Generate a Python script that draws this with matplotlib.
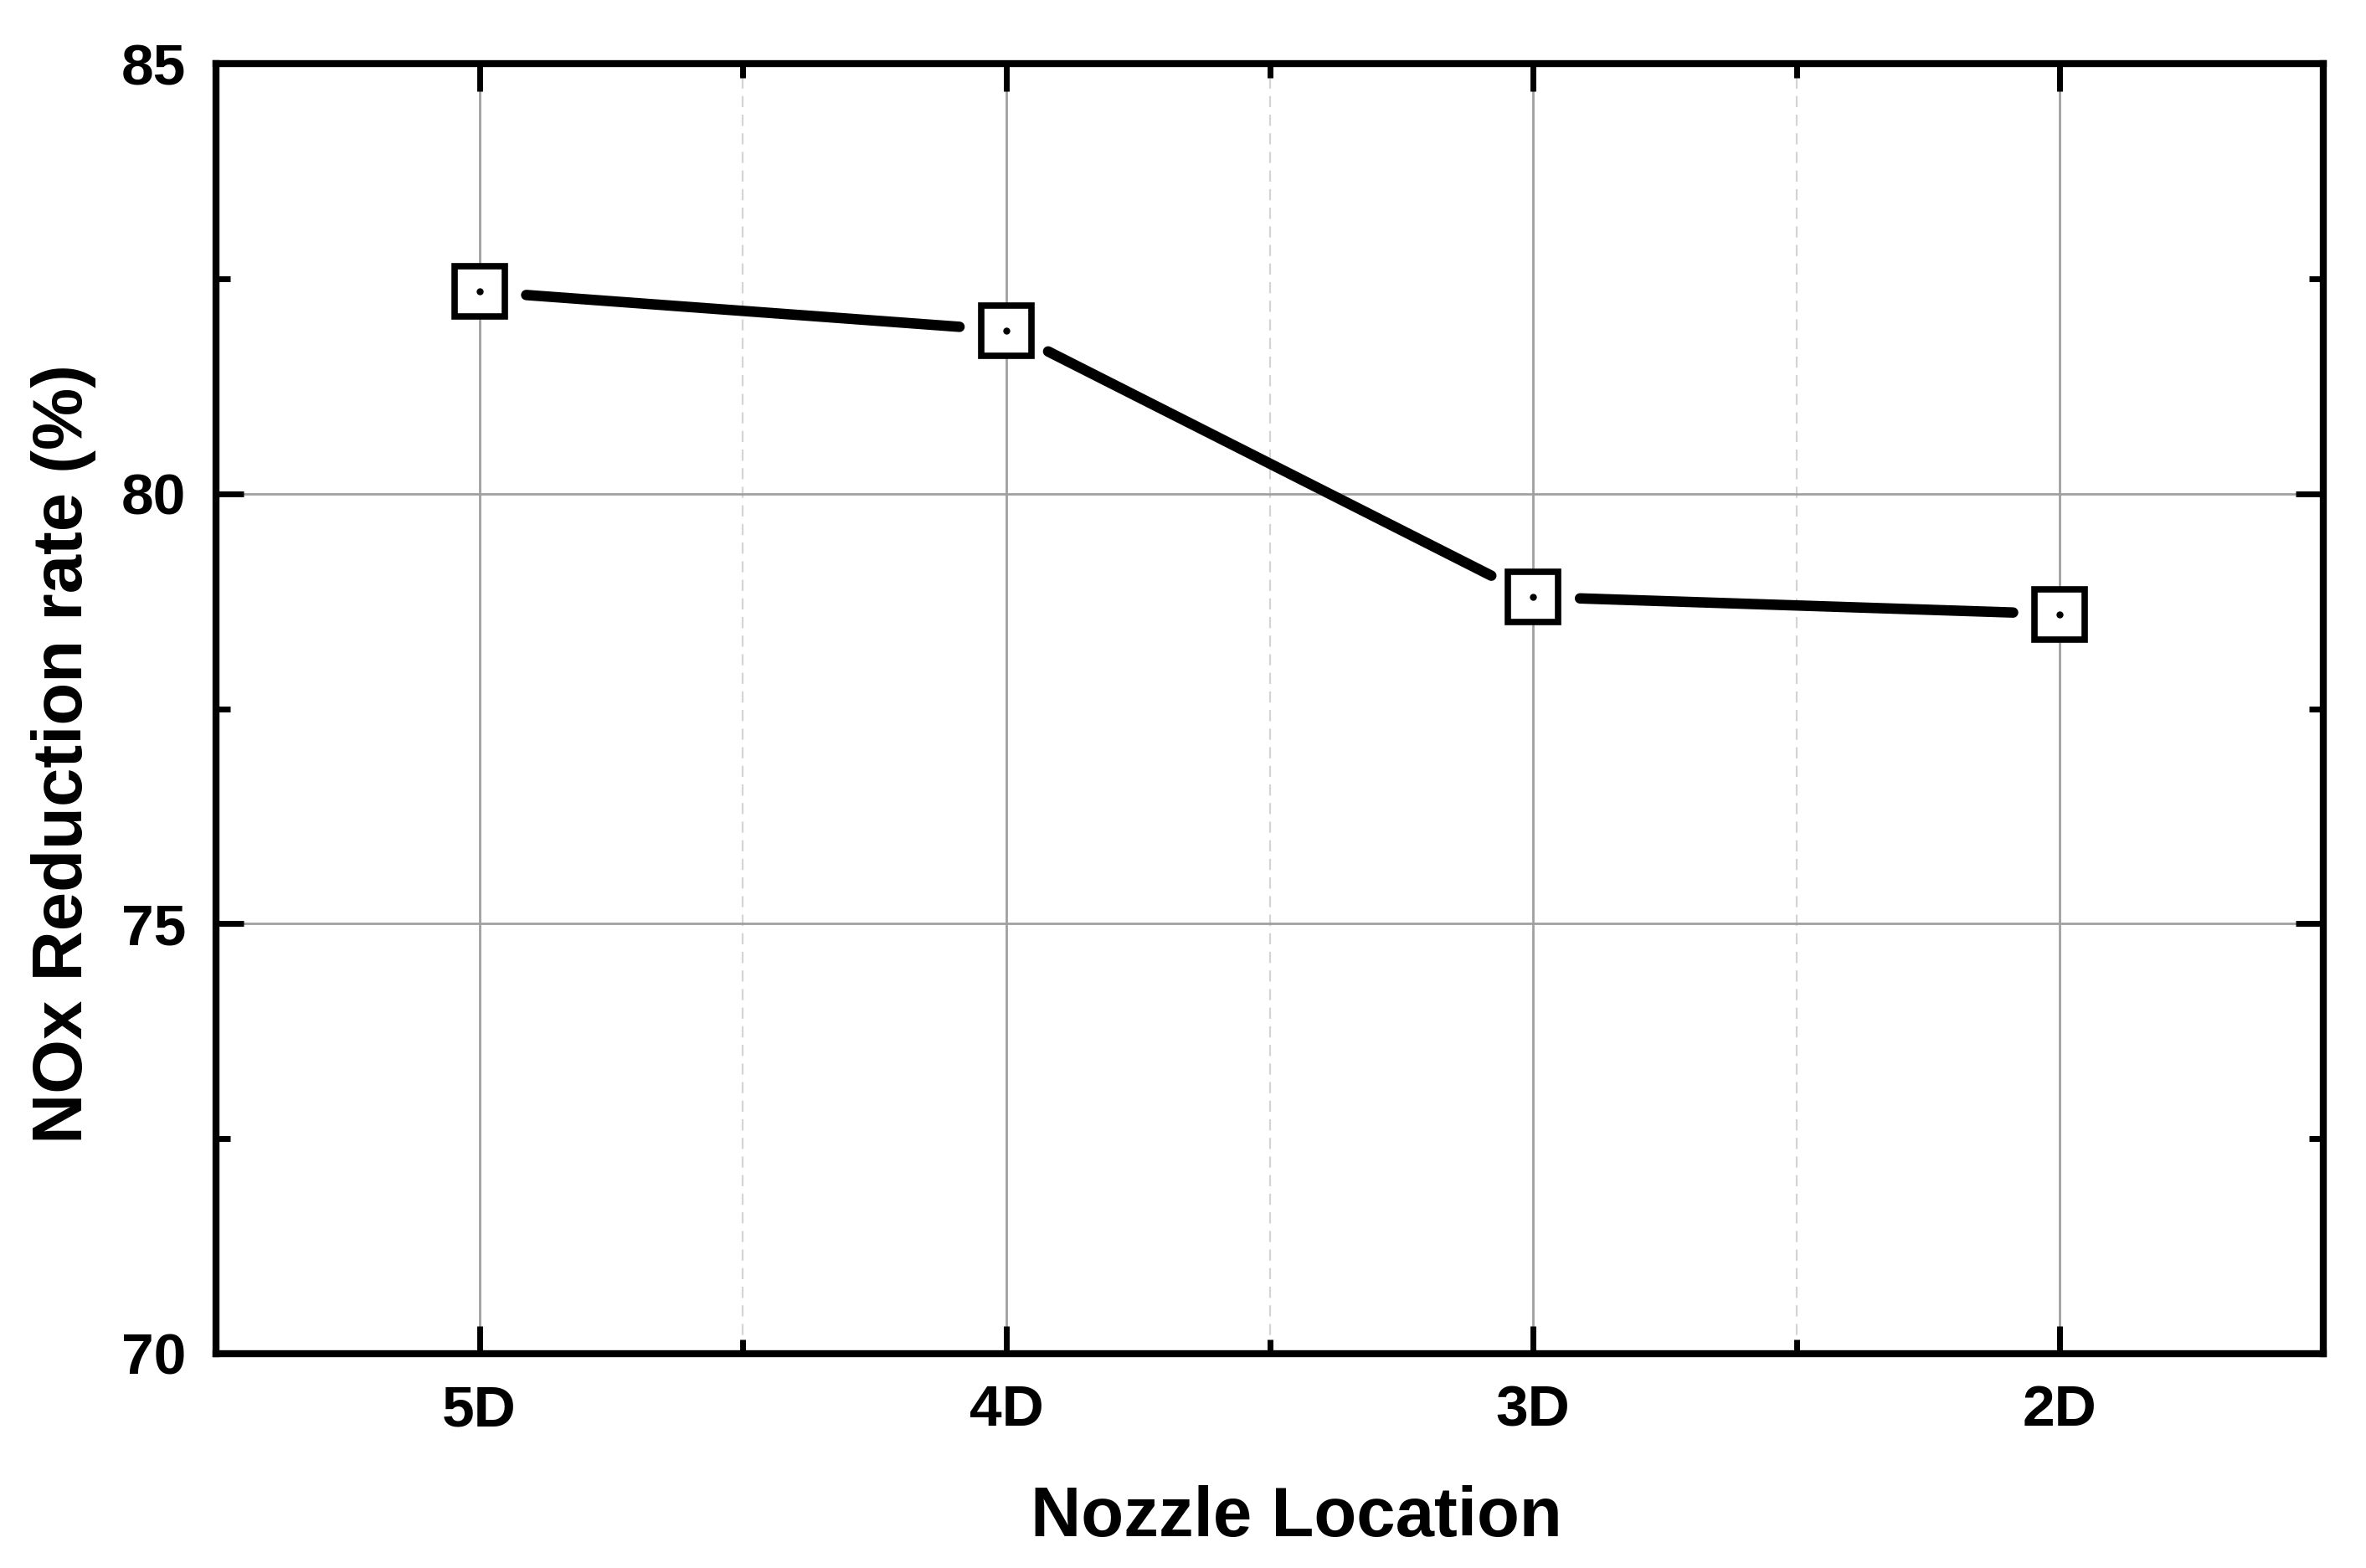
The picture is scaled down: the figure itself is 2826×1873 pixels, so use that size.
import matplotlib
matplotlib.use("Agg")
import matplotlib.pyplot as plt
import numpy as np
from matplotlib.ticker import MultipleLocator

categories = ["5D", "4D", "3D", "2D"]
nox_reduction = [82.35, 81.9, 78.8, 78.6]
y_ticks = [70, 75, 80, 85]

plt.rcParams['font.family'] = ['Liberation Sans', 'DejaVu Sans']
plt.rcParams['font.weight'] = 'bold'

fig = plt.figure(figsize=(28.26, 18.73), dpi=100)
ax = fig.add_axes([0.0913, 0.1367, 0.982 - 0.0913, 0.9594 - 0.1367])

x = np.arange(len(categories))
ax.set_xlim(-0.5, len(categories) - 0.5)
ax.set_ylim(70, 85)

# grid
ax.set_axisbelow(True)
ax.xaxis.set_minor_locator(MultipleLocator(0.5))
ax.yaxis.set_minor_locator(MultipleLocator(2.5))
ax.grid(True, which='major', color='#a0a0a0', linewidth=2.0)
ax.grid(True, which='minor', axis='x', color='#d4d4d4', linewidth=1.6, linestyle=(0, (6, 4)))
ax.grid(False, which='minor', axis='y')

# line segments with gaps near markers (computed in display space)
gap = 56  # pixels
disp = ax.transData.transform(np.column_stack([x, nox_reduction]))
inv = ax.transData.inverted()
for i in range(len(x) - 1):
    p0, p1 = disp[i], disp[i + 1]
    d = p1 - p0
    u = d / np.hypot(*d)
    a = inv.transform(p0 + u * gap)
    b = inv.transform(p1 - u * gap)
    ax.plot([a[0], b[0]], [a[1], b[1]], color='black', linewidth=9,
            solid_capstyle='round', zorder=3)

ax.plot(x, nox_reduction, linestyle='none', marker='s', markersize=43,
        markerfacecolor='white', markeredgecolor='black', markeredgewidth=5.5, zorder=4)
ax.plot(x, nox_reduction, linestyle='none', marker='o', markersize=5,
        markerfacecolor='black', markeredgecolor='black', zorder=5)

ax.set_xticks(x)
ax.set_xticklabels(categories)
ax.set_yticks(y_ticks)
ax.set_yticklabels([str(v) for v in y_ticks])

ax.tick_params(which='both', direction='in', top=True, right=True, width=5, colors='black')
ax.tick_params(which='major', length=24, labelsize=50, pad=26)
ax.tick_params(which='minor', length=12)
for lab in ax.get_xticklabels() + ax.get_yticklabels():
    lab.set_fontweight('bold')

for s in ax.spines.values():
    s.set_linewidth(6)
    s.set_color('black')

fig.text(1548 / 2826, 1 - 1813 / 1873, "Nozzle Location",
         ha='center', va='center', fontsize=60, fontweight='bold')
fig.text(76 / 2826, 1 - 901 / 1873, "NOx Reduction rate (%)",
         ha='center', va='center', rotation=90, fontsize=60, fontweight='bold')

fig.savefig("out.png", dpi=100)
